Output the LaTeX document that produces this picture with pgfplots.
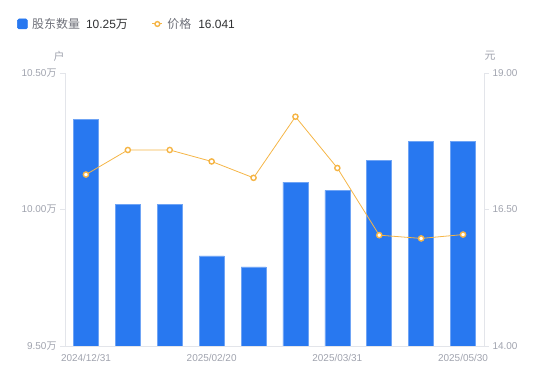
\documentclass[border=0pt]{standalone}
\usepackage{pgfplots}
\pgfplotsset{compat=1.18}
\usepackage{fontspec}
\setmainfont{Liberation Sans}
\newfontfamily\cjk{Noto Sans CJK SC}
\definecolor{barblue}{HTML}{2878F0}
\definecolor{baredge}{HTML}{6FA4F5}
\definecolor{lineorange}{HTML}{F5B546}
\definecolor{axisgray}{HTML}{E3E5EA}
\definecolor{tickgray}{HTML}{A0A3AE}
\definecolor{leggray}{HTML}{6E7079}
\definecolor{legdark}{HTML}{303133}
\begin{document}
\begin{tikzpicture}
\useasboundingbox (0,0) rectangle (550bp,381bp);
\begin{axis}[
 scale only axis, width=419bp, height=273bp,
 at={(65bp,35bp)}, anchor=south west,
 xmin=-0.5, xmax=9.5, ymin=9.5, ymax=10.5,
 axis x line*=bottom, axis y line*=left,
 axis line style={axisgray, line width=0.8bp},
 xtick={0,3,6,9}, xticklabels={2024/12/31,2025/02/20,2025/03/31,2025/05/30},
 major x tick style={draw=none},
 ytick={9.5,10,10.5}, yticklabels={9.50{\cjk 万},10.00{\cjk 万},10.50{\cjk 万}},
 y tick style={axisgray, line width=0.8bp}, major tick length=5bp, tick align=outside,
 ticklabel style={font=\fontsize{10}{12}\selectfont, text=tickgray},
 /pgf/number format/assume math mode=true,
 ylabel={\cjk 户},
 every axis y label/.style={at={(axis description cs:-0.0143,1.0623)}, anchor=center, font=\fontsize{11}{13}\selectfont, text=tickgray},
 legend columns=2,
 legend style={draw=none, fill=none, at={(axis description cs:-0.1217,1.1795)}, anchor=west,
   font=\fontsize{12}{14}\selectfont,
   /tikz/every odd column/.append style={column sep=2.5bp},
   /tikz/every even column/.append style={column sep=22bp}},
]
\addplot[ybar, bar width=25bp, fill=barblue, draw=baredge, line width=0.5bp,
  legend image code/.code={\fill[barblue, rounded corners=1.5bp] (0bp,-5bp) rectangle (10bp,5bp);}]
 coordinates {(0,10.33) (1,10.02) (2,10.02) (3,9.83) (4,9.79) (5,10.10) (6,10.07) (7,10.18) (8,10.25) (9,10.25)};
\addlegendentry{{\cjk\color{leggray}股东数量}\hspace{6bp}{\color{legdark}10.25{\cjk 万}}}
\addlegendimage{legend image code/.code={\draw[lineorange, line width=1bp] (0bp,0bp)--(10bp,0bp); \draw[lineorange, fill=white, line width=1.4bp] (5bp,0bp) circle (2.4bp);}}
\addlegendentry{{\cjk\color{leggray}价格}\hspace{7bp}{\color{legdark}16.041}}
\end{axis}
\begin{axis}[
 scale only axis, width=419bp, height=273bp,
 at={(65bp,35bp)}, anchor=south west,
 xmin=-0.5, xmax=9.5, ymin=14, ymax=19,
 axis x line=none, axis y line*=right, xtick=\empty,
 axis line style={axisgray, line width=0.8bp},
 ytick={14,16.5,19},
 yticklabel style={/pgf/number format/.cd, fixed, fixed zerofill, precision=2},
 y tick style={axisgray, line width=0.8bp}, major tick length=5bp, tick align=outside,
 ticklabel style={font=\fontsize{10}{12}\selectfont, text=tickgray},
 /pgf/number format/assume math mode=true,
 ylabel={\cjk 元},
 every axis y label/.style={at={(axis description cs:1.0143,1.0623)}, anchor=center, font=\fontsize{11}{13}\selectfont, text=tickgray},
]
\addplot[lineorange, line width=0.8bp, mark=*, mark size=2.6bp, mark options={fill=white, draw=lineorange, line width=1.4bp}]
 coordinates {(0,17.14) (1,17.59) (2,17.59) (3,17.38) (4,17.08) (5,18.20) (6,17.26) (7,16.03) (8,15.97) (9,16.041)};
\end{axis}
\end{tikzpicture}
\end{document}
